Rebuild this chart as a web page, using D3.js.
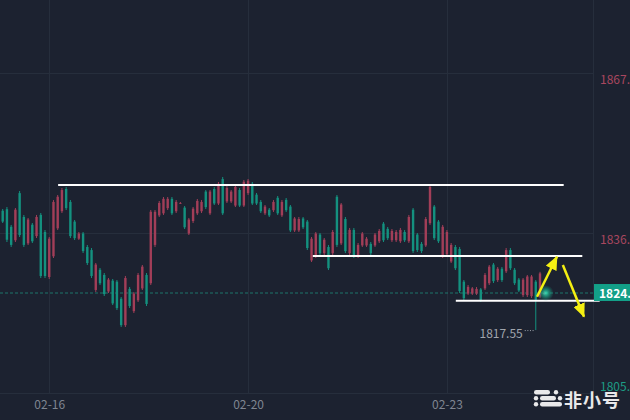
<!DOCTYPE html>
<html>
<head>
<meta charset="utf-8">
<script src="https://cdn.jsdelivr.net/npm/d3@7"></script>
<style>
  html, body { margin: 0; padding: 0; background: #1c2230; overflow: hidden; }
  svg { display: block; }
  text { font-family: "Noto Sans CJK SC", "Noto Sans", sans-serif; }
</style>
</head>
<body>
<div class="plot"></div>
<script>
const w = 630, h = 420;
const plotRight = 593, plotBottom = 393;

// hourly candles: [open, high, low, close]
const ohlc = [
  [1840.6,1840.94,1838.23,1838.5],[1840.9,1841.32,1834.56,1835.0],[1837.5,1837.85,1833.60,1834.0],
  [1834.9,1841.13,1834.56,1840.8],[1844.0,1844.41,1835.53,1835.9],[1839.4,1839.78,1833.60,1834.0],
  [1834.3,1839.20,1833.98,1838.9],[1837.9,1838.23,1834.37,1834.7],[1835.7,1839.78,1835.33,1839.4],
  [1839.8,1840.16,1827.61,1828.0],[1836.5,1836.88,1827.61,1828.0],[1827.8,1835.53,1827.42,1835.2],
  [1831.8,1842.67,1831.47,1842.3],[1837.2,1843.64,1836.88,1843.3],[1840.5,1844.99,1840.16,1844.6],
  [1844.8,1845.18,1840.74,1841.1],[1842.3,1842.67,1835.33,1835.7],[1838.5,1838.81,1834.95,1835.3],
  [1835.2,1836.49,1834.95,1836.2],[1836.2,1836.49,1832.44,1832.8],[1833.6,1833.98,1830.12,1830.5],
  [1833.0,1833.40,1827.61,1828.0],[1825.3,1830.51,1824.91,1830.2],[1829.2,1829.54,1826.26,1826.6],
  [1828.2,1828.57,1824.13,1824.5],[1825.0,1827.61,1824.71,1827.3],[1827.1,1827.42,1822.39,1822.7],
  [1826.9,1827.22,1821.43,1821.8],[1823.6,1823.94,1818.15,1818.5],[1818.5,1828.00,1818.15,1827.6],
  [1825.5,1825.87,1821.82,1822.2],[1821.2,1824.91,1820.85,1824.6],[1823.3,1828.57,1822.97,1828.2],
  [1825.6,1830.12,1825.29,1829.8],[1828.2,1828.57,1822.20,1822.6],[1826.6,1840.74,1826.26,1840.4],
  [1834.0,1840.74,1833.60,1840.4],[1839.7,1842.48,1839.39,1842.1],[1840.1,1843.25,1839.78,1842.9],
  [1841.1,1843.25,1840.74,1842.9],[1842.9,1843.25,1839.78,1840.1],[1840.5,1842.67,1840.16,1842.3],
  [1842.0,1842.29,1841.90,1842.1],[1841.2,1841.51,1837.07,1837.4],[1836.2,1839.20,1835.91,1838.9],
  [1838.6,1841.32,1838.23,1841.0],[1840.1,1842.87,1839.78,1842.5],[1840.5,1842.67,1840.16,1842.3],
  [1844.3,1844.60,1840.94,1841.3],[1840.1,1844.60,1839.78,1844.3],[1844.8,1845.18,1841.71,1842.0],
  [1842.0,1846.15,1841.71,1845.8],[1846.7,1847.12,1839.78,1840.1],[1842.4,1845.38,1842.09,1845.0],
  [1842.4,1844.60,1842.09,1844.3],[1841.6,1845.57,1841.32,1845.2],[1844.6,1844.99,1841.32,1841.6],
  [1841.6,1846.54,1841.32,1846.2],[1844.0,1846.73,1843.64,1846.4],[1845.8,1846.15,1841.71,1842.0],
  [1843.7,1844.03,1841.71,1842.0],[1842.3,1842.67,1840.16,1840.5],[1840.1,1841.71,1839.78,1841.4],
  [1840.8,1841.13,1839.39,1839.7],[1840.7,1842.67,1840.36,1842.3],[1843.1,1843.45,1839.78,1840.1],
  [1839.7,1842.67,1839.39,1842.3],[1842.7,1843.06,1840.36,1840.7],[1841.4,1841.71,1836.49,1836.8],
  [1836.8,1839.39,1836.49,1839.1],[1836.8,1839.39,1836.49,1839.0],[1839.1,1839.39,1837.07,1837.4],
  [1838.5,1838.81,1833.02,1833.4],[1831.0,1835.53,1830.70,1835.2],[1831.8,1836.49,1831.47,1836.2],
  [1836.0,1836.30,1832.05,1832.4],[1832.4,1835.33,1832.05,1835.0],[1833.6,1833.98,1829.15,1829.5],
  [1832.4,1836.88,1832.05,1836.5],[1843.3,1843.64,1833.60,1834.0],[1834.3,1842.09,1833.98,1841.8],
  [1839.0,1839.39,1832.44,1832.8],[1832.4,1837.27,1832.05,1836.9],[1836.9,1837.27,1831.47,1831.8],
  [1831.8,1834.37,1831.47,1834.0],[1833.9,1836.49,1833.60,1836.2],[1833.9,1835.53,1833.60,1835.2],
  [1834.2,1834.56,1832.05,1832.4],[1833.9,1836.30,1833.60,1836.0],[1834.7,1837.07,1834.37,1836.7],
  [1838.1,1838.42,1834.56,1834.9],[1837.1,1837.46,1834.95,1835.3],[1834.9,1837.07,1834.56,1836.7],
  [1834.9,1836.88,1834.56,1836.5],[1834.7,1837.27,1834.37,1836.9],[1836.5,1836.88,1834.56,1834.9],
  [1834.7,1839.78,1834.37,1839.4],[1840.8,1841.13,1832.44,1832.8],[1836.0,1836.30,1832.63,1833.0],
  [1834.2,1834.56,1832.44,1832.8],[1833.9,1839.39,1833.60,1839.0],[1838.2,1845.57,1837.85,1845.2],
  [1841.4,1841.71,1834.95,1835.3],[1838.5,1838.81,1834.37,1834.7],[1831.8,1837.85,1831.47,1837.5],
  [1832.2,1836.88,1831.86,1836.5],[1830.8,1834.37,1830.51,1834.0],[1833.6,1833.98,1829.15,1829.5],
  [1833.2,1833.60,1824.71,1825.1],[1826.9,1827.22,1823.36,1823.7],[1824.6,1826.26,1824.33,1825.9],
  [1824.6,1825.87,1824.33,1825.6],[1824.6,1825.87,1824.33,1825.5],[1825.4,1825.68,1822.97,1823.3],
  [1825.6,1828.57,1825.29,1828.2],[1826.6,1830.12,1826.26,1829.8],[1830.2,1830.51,1826.64,1827.0],
  [1827.2,1829.73,1826.84,1829.4],[1829.4,1829.73,1826.84,1827.2],[1828.9,1833.40,1828.57,1833.0],
  [1833.0,1833.40,1829.15,1829.5],[1829.2,1829.54,1826.26,1826.6],[1827.3,1827.61,1824.91,1825.2],
  [1824.3,1827.61,1823.94,1827.3],[1824.3,1828.19,1823.94,1827.9],[1824.1,1828.19,1823.75,1827.9],
  [1826.9,1827.22,1817.55,1823.4],[1824.0,1828.80,1823.70,1828.5],[1824.5,1825.00,1824.40,1824.71]
];

const tickIndex = [11, 58, 105];
const tickLabels = ["02-16", "02-20", "02-23"];
const priceTicks = [1805.40, 1836.30, 1867.20];
const lastPrice = 1824.71;
const lowIndex = 126, lowPrice = 1817.55;

// drawn support / resistance lines: [price, from index, to index]
const levelLines = [[1845.57, 13.1, 132.6], [1831.86, 73.3, 137.0], [1823.23, 107.1, 141.1]];
// yellow arrows: [[from index, price], [to index, price]]
const arrows = [[[126.3, 1824.0], [131.0, 1831.72]], [[132.4, 1830.12], [137.4, 1820.14]]];

const upColor = "#a23e58", downColor = "#14917f";

const svg = d3.select(".plot")
  .append("svg")
    .attr("width", w)
    .attr("height", h);

svg.append("rect").attr("width", w).attr("height", h).attr("fill", "#1c2230");

const x = d3.scaleLinear().domain([0, 127]).range([2.7, 540]);
const y = d3.scaleLinear().domain([1805.4, 1867.2]).range([plotBottom, 73]);

const defs = svg.append("defs");
const glow = defs.append("radialGradient").attr("id", "glow");
glow.append("stop").attr("offset", "0%").attr("stop-color", "#3fe0b8").attr("stop-opacity", 0.95);
glow.append("stop").attr("offset", "45%").attr("stop-color", "#1fb894").attr("stop-opacity", 0.6);
glow.append("stop").attr("offset", "100%").attr("stop-color", "#17a085").attr("stop-opacity", 0);

defs.append("marker")
    .attr("id", "head")
    .attr("markerUnits", "userSpaceOnUse")
    .attr("viewBox", "0 0 14 12")
    .attr("refX", 13).attr("refY", 6)
    .attr("markerWidth", 14).attr("markerHeight", 12)
    .attr("orient", "auto")
  .append("path")
    .attr("d", "M0,0 L14,6 L0,12 Z")
    .attr("fill", "#f4ef12");

// grid
const grid = svg.append("g").attr("stroke", "#262e3c").attr("stroke-width", 1);
grid.selectAll(".vg")
  .data(tickIndex)
  .enter().append("line")
    .attr("x1", d => Math.round(x(d)) + 0.5).attr("x2", d => Math.round(x(d)) + 0.5)
    .attr("y1", 0).attr("y2", plotBottom);
grid.selectAll(".hg")
  .data(priceTicks)
  .enter().append("line")
    .attr("x1", 0).attr("x2", plotRight)
    .attr("y1", d => Math.round(y(d)) + 0.5).attr("y2", d => Math.round(y(d)) + 0.5);
grid.append("line")
    .attr("x1", plotRight + 0.5).attr("x2", plotRight + 0.5)
    .attr("y1", 0).attr("y2", plotBottom);

// last price dashed line
svg.append("line")
    .attr("x1", 0).attr("x2", plotRight)
    .attr("y1", y(lastPrice)).attr("y2", y(lastPrice))
    .attr("stroke", "#1f8a7c")
    .attr("stroke-opacity", 0.8)
    .attr("stroke-dasharray", "3,2");

// candles
const candle = svg.append("g").selectAll("g")
  .data(ohlc)
  .enter().append("g")
    .attr("fill", d => d[3] >= d[0] ? upColor : downColor)
    .attr("stroke", d => d[3] >= d[0] ? upColor : downColor);
candle.append("line")
    .attr("x1", (d, i) => x(i)).attr("x2", (d, i) => x(i))
    .attr("y1", d => y(d[1])).attr("y2", d => y(d[2]))
    .attr("stroke-width", 1);
candle.append("rect")
    .attr("stroke", "none")
    .attr("x", (d, i) => x(i) - 1.2)
    .attr("width", 2.4)
    .attr("y", d => y(Math.max(d[0], d[3])))
    .attr("height", d => Math.max(0.8, Math.abs(y(d[0]) - y(d[3]))));

// support / resistance lines
svg.append("g").selectAll("line")
  .data(levelLines)
  .enter().append("line")
    .attr("x1", d => x(d[1])).attr("x2", d => x(d[2]))
    .attr("y1", d => y(d[0])).attr("y2", d => y(d[0]))
    .attr("stroke", "#ffffff")
    .attr("stroke-width", 2);

// low marker
svg.append("line")
    .attr("x1", x(lowIndex) - 11).attr("x2", x(lowIndex) - 1)
    .attr("y1", y(lowPrice) + 0.5).attr("y2", y(lowPrice) + 0.5)
    .attr("stroke", "#9aa0a8")
    .attr("stroke-dasharray", "1,1.6");
svg.append("text")
    .attr("x", x(lowIndex) - 13)
    .attr("y", y(lowPrice) + 8)
    .attr("text-anchor", "end")
    .attr("fill", "#a0a5ad")
    .style("font-size", "12px")
    .text(lowPrice.toFixed(2));

// glow at last price
svg.append("circle")
    .attr("cx", x(ohlc.length - 1) + 1.5)
    .attr("cy", y(lastPrice))
    .attr("r", 8)
    .attr("fill", "url(#glow)");

// arrows
svg.append("g").selectAll("line")
  .data(arrows)
  .enter().append("line")
    .attr("x1", d => x(d[0][0])).attr("y1", d => y(d[0][1]))
    .attr("x2", d => x(d[1][0])).attr("y2", d => y(d[1][1]))
    .attr("stroke", "#f4ef12")
    .attr("stroke-width", 2.5)
    .attr("marker-end", "url(#head)");

// y axis on the right
const yAxis = d3.axisRight(y)
    .tickValues(priceTicks)
    .tickSize(0)
    .tickPadding(7)
    .tickFormat(d => d.toFixed(2));
const ya = svg.append("g")
    .attr("transform", "translate(" + plotRight + ",0)")
    .call(yAxis);
ya.select(".domain").remove();
ya.selectAll("text")
    .style("font-size", "12px")
    .attr("fill", d => d > lastPrice ? "#a8475f" : "#1c9c85")
    .attr("dy", d => d === priceTicks[0] ? "-0.2em" : "0.85em");

// last price tag
svg.append("rect")
    .attr("x", plotRight + 1).attr("y", y(lastPrice) - 9)
    .attr("width", w - plotRight).attr("height", 17)
    .attr("fill", "#13a088");
svg.append("text")
    .attr("x", plotRight + 6)
    .attr("y", y(lastPrice) + 4.5)
    .attr("fill", "#ffffff")
    .attr("font-weight", "bold")
    .style("font-size", "12px")
    .text(lastPrice.toFixed(2));

// x axis
const xAxis = d3.axisBottom(x)
    .tickValues(tickIndex)
    .tickSize(0)
    .tickPadding(7)
    .tickFormat((d, i) => tickLabels[i]);
const xa = svg.append("g")
    .attr("transform", "translate(0," + plotBottom + ")")
    .call(xAxis);
xa.select(".domain").remove();
xa.selectAll("text")
    .style("font-size", "12px")
    .attr("fill", "#7f8591");

// watermark
const logo = svg.append("g").attr("fill", "#e9e9ea");
logo.append("rect").attr("x", 534).attr("y", 390).attr("width", 16).attr("height", 4.5).attr("rx", 2.2);
logo.append("circle").attr("cx", 556).attr("cy", 392.2).attr("r", 2.2);
logo.append("circle").attr("cx", 536).attr("cy", 398.2).attr("r", 2.2);
logo.append("rect").attr("x", 540).attr("y", 396).attr("width", 16).attr("height", 4.5).attr("rx", 2.2);
logo.append("circle").attr("cx", 560).attr("cy", 398.2).attr("r", 2.2);
logo.append("circle").attr("cx", 536).attr("cy", 404.2).attr("r", 2.2);
logo.append("rect").attr("x", 540).attr("y", 402).attr("width", 22).attr("height", 4.5).attr("rx", 2.2);
logo.append("text")
    .attr("x", 564).attr("y", 406.5)
    .attr("font-weight", "bold")
    .attr("letter-spacing", "1px")
    .style("font-size", "18px")
    .text("非小号");
</script>
</body>
</html>
